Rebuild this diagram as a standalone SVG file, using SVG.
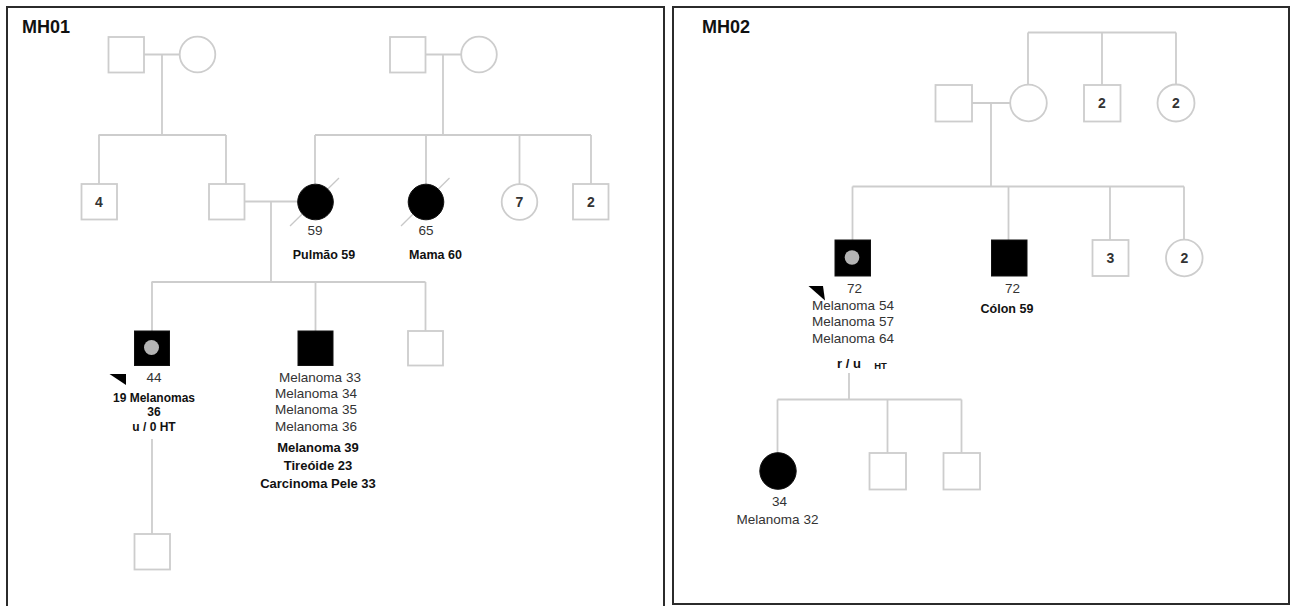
<svg xmlns="http://www.w3.org/2000/svg" width="1295" height="606" viewBox="0 0 1295 606">
<style>
  .frame{fill:none;stroke:#2b2b2b;stroke-width:2}
  .ln{fill:none;stroke:#cdcdcd;stroke-width:1.8}
  .un{fill:#fff;stroke:#cdcdcd;stroke-width:1.8}
  .af{fill:#000;stroke:#111;stroke-width:1}
  .dot{fill:#b4b4b4}
  .sl{stroke:#c8c8c8;stroke-width:1.3}
  .t{font-family:"Liberation Sans",Arial,sans-serif;font-size:13.5px;fill:#333;text-anchor:middle}
  .n{font-family:"Liberation Sans",Arial,sans-serif;font-size:14px;font-weight:bold;fill:#333;text-anchor:middle}
  .b{font-family:"Liberation Sans",Arial,sans-serif;font-size:12.5px;font-weight:bold;fill:#111;text-anchor:middle}
  .bs{font-family:"Liberation Sans",Arial,sans-serif;font-size:9.5px;font-weight:bold;fill:#111;text-anchor:middle}
  .title{font-family:"Liberation Sans",Arial,sans-serif;font-size:18px;font-weight:bold;fill:#111}
  .arrow{fill:#000}
</style>
<rect x="0" y="0" width="1295" height="606" fill="#fff"/>
<!-- panel frames -->
<rect class="frame" x="7" y="7" width="657" height="612"/>
<rect class="frame" x="673" y="7" width="616" height="597"/>
<text class="title" x="22" y="33">MH01</text>
<text class="title" x="702" y="33">MH02</text>

<g id="connectors">
  <!-- MH01 gen I left -->
  <line class="ln" x1="144" y1="54.5" x2="180" y2="54.5"/>
  <line class="ln" x1="162" y1="54.5" x2="162" y2="135"/>
  <line class="ln" x1="98.5" y1="135" x2="226" y2="135"/>
  <line class="ln" x1="99" y1="135" x2="99" y2="184"/>
  <line class="ln" x1="226" y1="135" x2="226" y2="184"/>
  <!-- MH01 gen I right -->
  <line class="ln" x1="426" y1="54.5" x2="461" y2="54.5"/>
  <line class="ln" x1="443" y1="54.5" x2="443" y2="135"/>
  <line class="ln" x1="315" y1="135" x2="591" y2="135"/>
  <line class="ln" x1="315" y1="135" x2="315" y2="184"/>
  <line class="ln" x1="426" y1="135" x2="426" y2="184"/>
  <line class="ln" x1="519.5" y1="135" x2="519.5" y2="184"/>
  <line class="ln" x1="591" y1="135" x2="591" y2="184"/>
  <!-- MH01 gen II couple -->
  <line class="ln" x1="244" y1="201.5" x2="297.5" y2="201.5"/>
  <line class="ln" x1="271" y1="201.5" x2="271" y2="282"/>
  <line class="ln" x1="151.5" y1="282" x2="425.5" y2="282"/>
  <line class="ln" x1="152" y1="282" x2="152" y2="331"/>
  <line class="ln" x1="315.5" y1="282" x2="315.5" y2="331"/>
  <line class="ln" x1="425.5" y1="282" x2="425.5" y2="331"/>
  <!-- MH01 proband to child -->
  <line class="ln" x1="152" y1="439" x2="152" y2="534"/>

  <!-- MH02 top sibship -->
  <line class="ln" x1="1028" y1="32.5" x2="1176" y2="32.5"/>
  <line class="ln" x1="1028" y1="32.5" x2="1028" y2="85"/>
  <line class="ln" x1="1102" y1="32.5" x2="1102" y2="85"/>
  <line class="ln" x1="1176" y1="32.5" x2="1176" y2="85"/>
  <!-- MH02 couple -->
  <line class="ln" x1="972" y1="103" x2="1010" y2="103"/>
  <line class="ln" x1="991" y1="103" x2="991" y2="186.5"/>
  <line class="ln" x1="852.5" y1="186.5" x2="1184" y2="186.5"/>
  <line class="ln" x1="852.5" y1="186.5" x2="852.5" y2="240"/>
  <line class="ln" x1="1008.5" y1="186.5" x2="1008.5" y2="240"/>
  <line class="ln" x1="1110" y1="186.5" x2="1110" y2="240"/>
  <line class="ln" x1="1184" y1="186.5" x2="1184" y2="240"/>
  <!-- MH02 proband offspring -->
  <line class="ln" x1="849" y1="373" x2="849" y2="399.5"/>
  <line class="ln" x1="777.5" y1="399.5" x2="961.5" y2="399.5"/>
  <line class="ln" x1="777.5" y1="399.5" x2="777.5" y2="453"/>
  <line class="ln" x1="887.5" y1="399.5" x2="887.5" y2="453"/>
  <line class="ln" x1="961.5" y1="399.5" x2="961.5" y2="453"/>
</g>

<!-- MH01 nodes -->
<g id="mh01-gp1-m"><rect class="un" x="108.5" y="37" width="35.5" height="35.5"/></g>
<g id="mh01-gp1-f"><circle class="un" cx="197.5" cy="54.5" r="17.8"/></g>
<g id="mh01-gp2-m"><rect class="un" x="390" y="37" width="35.5" height="35.5"/></g>
<g id="mh01-gp2-f"><circle class="un" cx="479" cy="54.5" r="17.8"/></g>
<g id="mh01-uncles4"><rect class="un" x="81.5" y="184" width="35.5" height="35.5"/><text class="n" x="99" y="207">4</text></g>
<g id="mh01-father"><rect class="un" x="209" y="184" width="35.5" height="35.5"/></g>
<g id="mh01-mother">
  <line class="sl" x1="290" y1="226" x2="339" y2="178"/>
  <circle class="af" cx="315.5" cy="202" r="17.8"/>
  <text class="t" x="315" y="235">59</text>
  <text class="b" x="324" y="258.5">Pulmão 59</text>
</g>
<g id="mh01-aunt">
  <line class="sl" x1="401" y1="226" x2="449.5" y2="178"/>
  <circle class="af" cx="426" cy="202" r="17.8"/>
  <text class="t" x="426" y="235">65</text>
  <text class="b" x="435.5" y="258.5">Mama 60</text>
</g>
<g id="mh01-aunts7"><circle class="un" cx="519.5" cy="202" r="17.8"/><text class="n" x="519.5" y="207">7</text></g>
<g id="mh01-uncles2"><rect class="un" x="573" y="184" width="35.5" height="35.5"/><text class="n" x="591" y="207">2</text></g>
<g id="mh01-proband">
  <rect class="af" x="134.5" y="331" width="35" height="34.5"/>
  <circle class="dot" cx="151.5" cy="347.5" r="7.5"/>
  <polygon class="arrow" points="109.5,374 126,374 126,385"/>
  <text class="t" x="154" y="381.5">44</text>
  <text class="b" x="154" y="401.5" style="font-size:12px">19 Melanomas</text>
  <text class="b" x="154" y="416" style="font-size:12px">36</text>
  <text class="b" x="154" y="430.5" style="font-size:12px">u / 0 HT</text>
</g>
<g id="mh01-brother">
  <rect class="af" x="298" y="331" width="35" height="34.5"/>
  <text class="t" x="320" y="381.5">Melanoma 33</text>
  <text class="t" x="316" y="398">Melanoma 34</text>
  <text class="t" x="316" y="414">Melanoma 35</text>
  <text class="t" x="316" y="430.5">Melanoma 36</text>
  <text class="b" x="318" y="451.5" style="font-size:13px">Melanoma 39</text>
  <text class="b" x="318" y="469.5" style="font-size:13px">Tireóide 23</text>
  <text class="b" x="318" y="488" style="font-size:13px">Carcinoma Pele 33</text>
</g>
<g id="mh01-brother2"><rect class="un" x="408" y="331" width="35" height="34.5"/></g>
<g id="mh01-child"><rect class="un" x="134.5" y="534" width="35.5" height="35.5"/></g>

<!-- MH02 nodes -->
<g id="mh02-father"><rect class="un" x="935.5" y="85" width="36.5" height="36.5"/></g>
<g id="mh02-mother"><circle class="un" cx="1028.5" cy="103" r="18.3"/></g>
<g id="mh02-uncles2"><rect class="un" x="1084" y="85" width="36.5" height="36.5"/><text class="n" x="1102" y="108">2</text></g>
<g id="mh02-aunts2"><circle class="un" cx="1176" cy="103" r="18.5"/><text class="n" x="1176" y="108">2</text></g>
<g id="mh02-proband">
  <rect class="af" x="835" y="240" width="35.5" height="36"/>
  <circle class="dot" cx="852" cy="257.5" r="7.3"/>
  <polygon class="arrow" points="808.5,286 823,286 825,300.5"/>
  <text class="t" x="854.5" y="293">72</text>
  <text class="t" x="853" y="310">Melanoma 54</text>
  <text class="t" x="853" y="326">Melanoma 57</text>
  <text class="t" x="853" y="343">Melanoma 64</text>
  <text class="b" x="849" y="368" style="font-size:13px">r / u</text>
  <text class="bs" x="880.5" y="369">HT</text>
</g>
<g id="mh02-brother">
  <rect class="af" x="991.5" y="240" width="35.5" height="36"/>
  <text class="t" x="1012.5" y="293">72</text>
  <text class="b" x="1007" y="313">Cólon 59</text>
</g>
<g id="mh02-brothers3"><rect class="un" x="1092.5" y="240" width="36" height="36"/><text class="n" x="1110.5" y="263">3</text></g>
<g id="mh02-sisters2"><circle class="un" cx="1184.3" cy="258" r="18.3"/><text class="n" x="1184.3" y="263">2</text></g>
<g id="mh02-daughter">
  <ellipse class="af" cx="778" cy="471" rx="18.2" ry="18.3"/>
  <text class="t" x="779.5" y="506">34</text>
  <text class="t" x="777.5" y="524">Melanoma 32</text>
</g>
<g id="mh02-son1"><rect class="un" x="869.5" y="453" width="36.5" height="36.5"/></g>
<g id="mh02-son2"><rect class="un" x="943.5" y="453" width="36.5" height="36.5"/></g>
</svg>
